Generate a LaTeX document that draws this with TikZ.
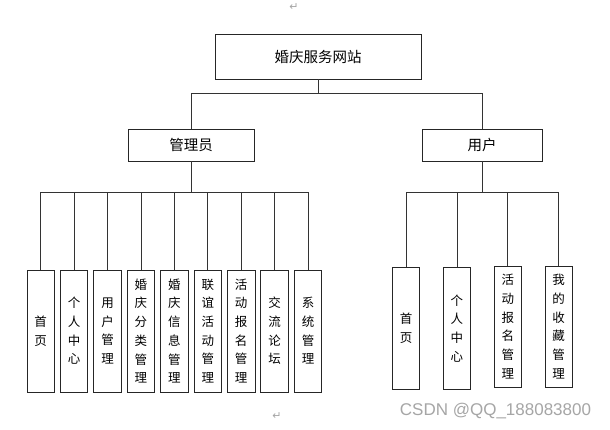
\documentclass[tikz,border=0pt]{standalone}
\usepackage{fontspec}
\setmainfont{Liberation Sans}
\newfontfamily\cjk{Noto Sans CJK SC}
\newfontfamily\dejavu{DejaVu Sans}
\begin{document}
\begin{tikzpicture}[x=1pt,y=-1pt,
  boxstyle/.style={draw=black!85, line width=0.8pt, fill=white, inner sep=0pt, align=center},
  topbox/.style={boxstyle, minimum width=206pt, minimum height=45pt, font=\cjk\fontsize{14.5}{16}\selectfont},
  midbox/.style={boxstyle, minimum height=32pt, font=\cjk\fontsize{14.5}{16}\selectfont},
  leafbox/.style={boxstyle, minimum width=27.5pt, minimum height=122pt, font=\cjk\fontsize{12.5}{18.7}\selectfont},
  conn/.style={draw=black!80, line width=0.8pt},
  pmark/.style={text=black!35, font=\dejavu\fontsize{11}{12}\selectfont, inner sep=0pt}
]
\useasboundingbox (0,0) rectangle (610,430);
\fill[white] (0,0) rectangle (610,430);

% paragraph marks
\node[pmark] (pm1) at (294,7) {↵};
\node[pmark] (pm2) at (277,416) {↵};

% main boxes
\node[topbox] (top) at (318,56.5) {婚庆服务网站};
\node[midbox, minimum width=126pt] (admin) at (191,145) {管理员};
\node[midbox, minimum width=120pt] (user) at (482,145) {用户};

% admin leaves
\node[leafbox] (a1) at (40.7,331) {首\\页};
\node[leafbox] (a2) at (74.1,331) {个\\人\\中\\心};
\node[leafbox] (a3) at (107.5,331) {用\\户\\管\\理};
\node[leafbox] (a4) at (140.9,331) {婚\\庆\\分\\类\\管\\理};
\node[leafbox] (a5) at (174.3,331) {婚\\庆\\信\\息\\管\\理};
\node[leafbox] (a6) at (207.8,331) {联\\谊\\活\\动\\管\\理};
\node[leafbox] (a7) at (241.2,331) {活\\动\\报\\名\\管\\理};
\node[leafbox] (a8) at (274.6,331) {交\\流\\论\\坛};
\node[leafbox] (a9) at (308,331) {系\\统\\管\\理};

% user leaves
\node[leafbox, minimum height=121.7pt] (u1) at (406,328.2) {首\\页};
\node[leafbox, minimum height=121.7pt] (u2) at (456.9,328.2) {个\\人\\中\\心};
\node[leafbox, minimum height=121.3pt] (u3) at (507.8,326.7) {活\\动\\报\\名\\管\\理};
\node[leafbox, minimum height=121.3pt] (u4) at (558.7,326.7) {我\\的\\收\\藏\\管\\理};

% junctions
\coordinate (j0) at (318,93);
\coordinate (ja) at (191,192.7);
\coordinate (ju) at (482,192.7);

\draw[conn] (top.south) -- (j0);
\draw[conn] (j0) -| (admin.north);
\draw[conn] (j0) -| (user.north);

\draw[conn] (admin.south) -- (ja);
\foreach \n in {a1,a2,a3,a4,a5,a6,a7,a8,a9}{
  \draw[conn] (ja) -| (\n.north);
}
\draw[conn] (user.south) -- (ju);
\foreach \n in {u1,u2,u3,u4}{
  \draw[conn] (ju) -| (\n.north);
}

% watermark
\node[text=black!35, font=\fontsize{17}{20}\selectfont, inner sep=0pt] (wm) at (495.5,411.5) {CSDN @QQ\_188083800};
\end{tikzpicture}
\end{document}
